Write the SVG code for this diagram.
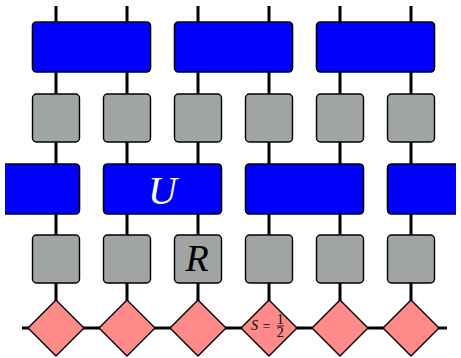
<svg xmlns="http://www.w3.org/2000/svg" width="461" height="358" viewBox="0 0 461 358">
<defs>
<style>
.wire{stroke:#000;stroke-width:3;fill:none}
.blue{fill:#0000ff;stroke:#000;stroke-width:1.6}
.gray{fill:#a0a4a2;stroke:#000;stroke-width:1.4}
.dia{fill:#ff8a8a;stroke:#000;stroke-width:1.4}
.lbl{font-family:"Liberation Serif",serif;font-style:italic}
.s{font-family:"Liberation Serif",serif;font-size:14px}
</style>
<clipPath id="clip"><rect x="5" y="0" width="451" height="358"/></clipPath>
</defs>
<g id="connectors">
<path class="wire" d="M56 6V328M127 6V328M198 6V328M269 6V328M340 6V328M411 6V328M22 328H447"/>
</g>
<g id="U1"><rect class="blue" x="32.5" y="22" width="118" height="50" rx="4"/></g>
<g id="U2"><rect class="blue" x="174.5" y="22" width="118" height="50" rx="4"/></g>
<g id="U3"><rect class="blue" x="316.5" y="22" width="118" height="50" rx="4"/></g>
<g id="R1"><rect class="gray" x="32.5" y="94" width="47" height="48" rx="4"/></g>
<g id="R2"><rect class="gray" x="103.5" y="94" width="47" height="48" rx="4"/></g>
<g id="R3"><rect class="gray" x="174.5" y="94" width="47" height="48" rx="4"/></g>
<g id="R4"><rect class="gray" x="245.5" y="94" width="47" height="48" rx="4"/></g>
<g id="R5"><rect class="gray" x="316.5" y="94" width="47" height="48" rx="4"/></g>
<g id="R6"><rect class="gray" x="387.5" y="94" width="47" height="48" rx="4"/></g>
<g id="U4" clip-path="url(#clip)"><rect class="blue" x="-38.5" y="164" width="118" height="50" rx="4"/></g>
<g id="U5"><rect class="blue" x="103.5" y="164" width="118" height="50" rx="4"/>
<text class="lbl" x="162.5" y="204" font-size="40" fill="#fff" text-anchor="middle">U</text></g>
<g id="U6"><rect class="blue" x="245.5" y="164" width="118" height="50" rx="4"/></g>
<g id="U7" clip-path="url(#clip)"><rect class="blue" x="387.5" y="164" width="118" height="50" rx="4"/></g>
<g id="R7"><rect class="gray" x="32.5" y="235" width="47" height="48" rx="4"/></g>
<g id="R8"><rect class="gray" x="103.5" y="235" width="47" height="48" rx="4"/></g>
<g id="R9"><rect class="gray" x="174.5" y="235" width="47" height="48" rx="4"/>
<text class="lbl" x="197" y="271" font-size="38" fill="#000" text-anchor="middle">R</text></g>
<g id="R10"><rect class="gray" x="245.5" y="235" width="47" height="48" rx="4"/></g>
<g id="R11"><rect class="gray" x="316.5" y="235" width="47" height="48" rx="4"/></g>
<g id="R12"><rect class="gray" x="387.5" y="235" width="47" height="48" rx="4"/></g>
<g id="S1"><polygon class="dia" points="56,300 84,328 56,356 28,328"/></g>
<g id="S2"><polygon class="dia" points="127,300 155,328 127,356 99,328"/></g>
<g id="S3"><polygon class="dia" points="198,300 226,328 198,356 170,328"/></g>
<g id="S4"><polygon class="dia" points="269,300 297,328 269,356 241,328"/>
<text class="s" x="254.5" y="329.5" font-style="italic" text-anchor="middle">S</text>
<text class="s" x="266.5" y="330.5" text-anchor="middle">=</text>
<text class="s" x="280.3" y="323.5" font-size="9.5" text-anchor="middle">1</text>
<line x1="276.7" y1="326" x2="284" y2="326" stroke="#000" stroke-width="0.8"/>
<text class="s" x="280.3" y="337" font-size="9.5" text-anchor="middle">2</text></g>
<g id="S5"><polygon class="dia" points="340,300 368,328 340,356 312,328"/></g>
<g id="S6"><polygon class="dia" points="411,300 439,328 411,356 383,328"/></g>
</svg>
